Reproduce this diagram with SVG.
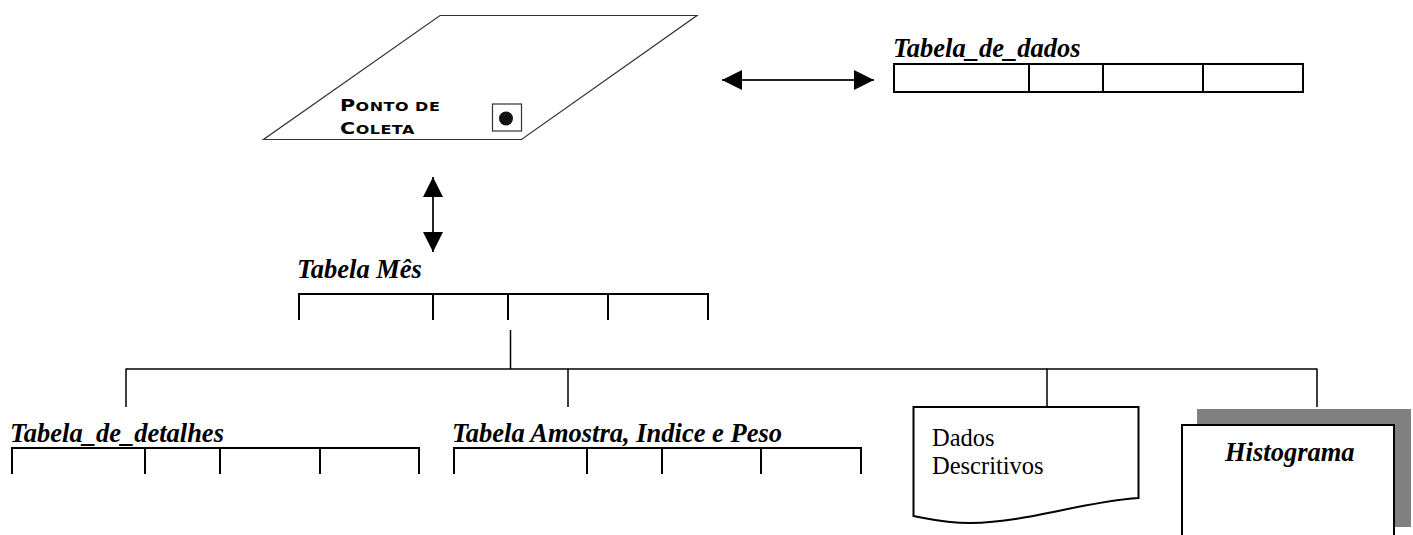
<svg xmlns="http://www.w3.org/2000/svg" width="1413" height="535" viewBox="0 0 1413 535">
  <style>
    .lbl { font-family: "Liberation Serif", "Times New Roman", serif; font-size: 26.5px; font-weight: bold; font-style: italic; fill: #000; }
    .plain { font-family: "Liberation Serif", "Times New Roman", serif; font-size: 24.5px; fill: #000; }
    .caps { font-family: "DejaVu Sans", sans-serif; font-weight: bold; fill: #000; letter-spacing: 0.4px; }
    .tbl { fill: none; stroke: #000; stroke-width: 2; }
    .link { fill: none; stroke: #000; stroke-width: 1.5; }
    .arrow { fill: none; stroke: #222; stroke-width: 2; marker-start: url(#head); marker-end: url(#head); }
  </style>
  <defs>
    <marker id="head" viewBox="0 0 20 20" refX="20" refY="10" markerWidth="20" markerHeight="20" markerUnits="userSpaceOnUse" orient="auto-start-reverse">
      <path d="M0,0 L20,10 L0,20 Z" fill="#000"/>
    </marker>
  </defs>

  <rect width="1413" height="535" fill="#fff"/>

  <!-- collection point: flat plane with a marker -->
  <g id="ponto-de-coleta">
    <polygon points="440,15.5 697,15.5 521.5,139.5 263.5,139.5" fill="#fff" stroke="#333" stroke-width="1.2"/>
    <rect x="492.5" y="104" width="29" height="27" fill="#fff" stroke="#333" stroke-width="1.2"/>
    <circle cx="506" cy="118.5" r="7" fill="#111"/>
    <!-- extended small-caps lettering -->
    <text class="caps" transform="translate(340,110.5) scale(1.25,1)"><tspan font-size="16.5">P</tspan><tspan font-size="12.8">ONTO DE</tspan></text>
    <text class="caps" transform="translate(340,133.5) scale(1.25,1)"><tspan font-size="16.5">C</tspan><tspan font-size="12.8">OLETA</tspan></text>
  </g>

  <!-- data table -->
  <g id="tabela-de-dados">
    <text class="lbl" x="893" y="57">Tabela_de_dados</text>
    <rect class="tbl" x="894" y="64" width="409" height="28"/>
    <path class="tbl" d="M1029,64 V92 M1103,64 V92 M1203,64 V92"/>
  </g>

  <!-- month table -->
  <g id="tabela-mes">
    <text class="lbl" x="297" y="278">Tabela Mês</text>
    <path class="tbl" d="M299,320 V294 H708 V320 M433,294 V320 M508,294 V320 M608,294 V320"/>
  </g>

  <!-- details table -->
  <g id="tabela-de-detalhes">
    <text class="lbl" x="10" y="441.5">Tabela_de_detalhes</text>
    <path class="tbl" d="M12,474 V448 H419 V474 M145,448 V474 M220,448 V474 M320,448 V474"/>
  </g>

  <!-- sample / index / weight table -->
  <g id="tabela-amostra">
    <text class="lbl" x="452" y="441.5">Tabela Amostra, Indice e Peso</text>
    <path class="tbl" d="M454,474 V448 H861 V474 M587,448 V474 M662,448 V474 M761,448 V474"/>
  </g>

  <!-- descriptive data document -->
  <g id="dados-descritivos">
    <path d="M913.5,407 H1138.5 V498 C1080,502 1030,522 970,523 C945,523 930,519 913.5,516 Z" fill="#fff" stroke="#000" stroke-width="2"/>
    <text class="plain" x="932" y="446">Dados</text>
    <text class="plain" x="932" y="473.5">Descritivos</text>
  </g>

  <!-- histogram panel with drop shadow -->
  <g id="histograma">
    <rect x="1197" y="409" width="214" height="118" fill="#808080"/>
    <rect x="1182" y="425" width="212" height="130" fill="#fff" stroke="#000" stroke-width="2"/>
    <text class="lbl" x="1225" y="461">Histograma</text>
  </g>

  <!-- connectors -->
  <g id="connectors">
    <path class="arrow" d="M722,80 H874"/>
    <path class="arrow" d="M433,177 V252"/>
    <path class="link" d="M510.5,330 V369"/>
    <path class="link" d="M126,369 H1317"/>
    <path class="link" d="M126,368.5 V407 M568,368.5 V407 M1047,368.5 V407 M1317,368.5 V407"/>
  </g>
</svg>
